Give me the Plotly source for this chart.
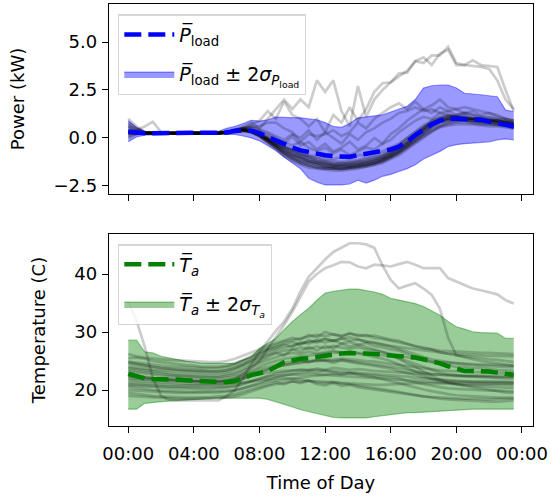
import plotly.graph_objects as go
from plotly.subplots import make_subplots

# half-hourly time of day (hours)
hours = [i * 0.5 for i in range(48)]

# ---- power (kW) ----
p_mean = [0.33, 0.28, 0.25, 0.25, 0.25, 0.25, 0.25, 0.25, 0.25, 0.25, 0.25, 0.25,
          0.28, 0.38, 0.40, 0.38, 0.25, 0.05, -0.15, -0.30, -0.50, -0.65, -0.75, -0.82,
          -0.90, -0.95, -0.98, -0.98, -0.90, -0.82, -0.75, -0.68, -0.60, -0.45, -0.20, 0.15,
          0.45, 0.70, 0.90, 1.00, 1.00, 1.00, 0.98, 0.95, 0.85, 0.78, 0.70, 0.60]
p_upper = [0.90, 0.55, 0.35, 0.33, 0.32, 0.32, 0.32, 0.32, 0.32, 0.32, 0.33, 0.35,
           0.50, 0.60, 0.75, 0.92, 0.88, 0.95, 1.08, 1.08, 1.05, 1.05, 1.00, 0.95,
           0.80, 0.60, 0.55, 0.75, 1.05, 1.10, 1.15, 1.20, 1.35, 1.50, 1.65, 2.00,
           2.60, 2.72, 2.76, 2.76, 2.60, 2.33, 2.30, 2.25, 2.20, 2.15, 1.45, 1.37]
p_lower = [-0.20, 0.05, 0.15, 0.17, 0.18, 0.18, 0.18, 0.18, 0.18, 0.18, 0.17, 0.16,
           0.15, 0.18, 0.10, 0.00, -0.15, -0.40, -0.65, -1.00, -1.30, -1.60, -2.10, -2.30,
           -2.45, -2.45, -2.45, -2.40, -2.20, -2.35, -2.20, -2.00, -1.90, -1.75, -1.60, -1.40,
           -1.10, -0.90, -0.70, -0.45, -0.35, -0.30, -0.28, -0.25, -0.20, -0.10, -0.05, -0.10]

p_days = [
    [0.5, 0.3, 0.25, 0.25, 0.25, 0.25, 0.25, 0.25, 0.25, 0.25, 0.25, 0.25,
     0.3, 0.4, 0.45, 0.4, 0.2, -0.1, -0.4, -0.7, -0.9, -1.1, -1.25, -1.35,
     -1.45, -1.55, -1.6, -1.6, -1.55, -1.5, -1.4, -1.3, -1.1, -0.9, -0.6, -0.3,
     0.0, 0.3, 0.6, 0.8, 0.9, 0.95, 0.9, 0.85, 0.8, 0.75, 0.7, 0.6],
    [1.0, 0.6, 0.3, 0.25, 0.25, 0.25, 0.25, 0.25, 0.25, 0.25, 0.25, 0.3,
     0.35, 0.45, 0.5, 0.4, 0.1, -0.2, -0.5, -0.8, -1.0, -1.2, -1.3, -1.4,
     -1.5, -1.5, -1.45, -1.5, -1.4, -1.3, -1.2, -1.1, -0.9, -0.6, -0.3, 0.1,
     0.4, 0.7, 0.9, 1.0, 1.1, 1.0, 1.0, 1.05, 0.95, 0.9, 0.8, 0.7],
    [0.2, 0.25, 0.25, 0.25, 0.25, 0.25, 0.25, 0.25, 0.25, 0.25, 0.25, 0.25,
     0.3, 0.35, 0.4, 0.35, 0.2, 0.0, -0.3, -0.5, -0.7, -0.9, -1.0, -1.1,
     -1.2, -1.3, -1.35, -1.3, -1.2, -1.1, -1.0, -0.9, -0.7, -0.4, -0.1, 0.2,
     0.5, 0.8, 1.0, 1.1, 1.2, 1.3, 1.2, 1.1, 1.05, 1.0, 0.9, 0.8],
    [0.3, 0.25, 0.25, 0.25, 0.25, 0.25, 0.25, 0.25, 0.25, 0.25, 0.25, 0.25,
     0.3, 0.4, 0.5, 0.6, 0.4, 0.2, 0.0, -0.3, 0.1, -0.4, -0.2, -0.6,
     -0.3, -0.7, -0.5, -0.2, -0.6, -0.4, 0.0, -0.3, 0.2, 0.5, 0.9, 1.2,
     1.5, 1.3, 1.6, 1.4, 1.5, 1.3, 1.4, 1.2, 1.3, 1.1, 1.0, 0.9],
    [0.0, 0.2, 0.25, 0.25, 0.25, 0.25, 0.25, 0.25, 0.25, 0.25, 0.25, 0.25,
     0.25, 0.3, 0.35, 0.3, 0.1, -0.2, -0.5, -0.9, -1.1, -1.3, -1.45, -1.55,
     -1.6, -1.6, -1.65, -1.55, -1.5, -1.4, -1.3, -1.2, -1.0, -0.8, -0.5, -0.2,
     0.1, 0.4, 0.6, 0.7, 0.8, 0.8, 0.75, 0.7, 0.7, 0.65, 0.6, 0.5],
    [0.6, 0.4, 0.3, 0.25, 0.25, 0.25, 0.25, 0.25, 0.25, 0.25, 0.25, 0.25,
     0.3, 0.4, 0.4, 0.3, 0.1, -0.1, -0.3, -0.5, -0.6, -0.8, -0.9, -0.95,
     -1.0, -1.1, -1.0, -1.1, -0.9, -0.9, -0.8, -0.7, -0.5, -0.3, 0.0, 0.3,
     0.6, 0.8, 0.9, 1.0, 1.0, 1.0, 0.95, 0.9, 0.9, 0.85, 0.8, 0.7],
    [0.3, 0.4, 0.6, 0.85, 0.3, 0.25, 0.25, 0.25, 0.25, 0.25, 0.25, 0.25,
     0.3, 0.35, 0.4, 0.3, 0.2, 0.0, -0.2, -0.4, -0.6, -0.8, -1.0, -1.2,
     -1.3, -1.4, -1.4, -1.35, -1.3, -1.2, -1.1, -1.0, -0.8, -0.5, -0.2, 0.2,
     0.5, 0.9, 1.1, 1.2, 1.1, 1.0, 1.0, 0.9, 0.9, 0.8, 0.7, 0.7],
    [0.25, 0.25, 0.25, 0.25, 0.25, 0.25, 0.25, 0.25, 0.25, 0.25, 0.25, 0.25,
     0.25, 0.3, 0.4, 0.35, 0.2, -0.05, -0.35, -0.6, -0.85, -1.0, -1.2, -1.3,
     -1.4, -1.45, -1.5, -1.45, -1.4, -1.35, -1.25, -1.1, -0.9, -0.7, -0.4, -0.1,
     0.2, 0.5, 0.7, 0.8, 0.85, 0.9, 0.8, 0.75, 0.7, 0.7, 0.65, 0.55],
    [0.1, 0.2, 0.25, 0.25, 0.25, 0.25, 0.25, 0.25, 0.25, 0.25, 0.25, 0.25,
     0.3, 0.35, 0.45, 0.4, 0.15, -0.15, -0.45, -0.75, -0.95, -1.15, -1.3, -1.4,
     -1.5, -1.55, -1.55, -1.5, -1.45, -1.4, -1.3, -1.15, -0.95, -0.7, -0.4, -0.05,
     0.3, 0.6, 0.85, 0.95, 1.0, 0.95, 0.9, 0.85, 0.85, 0.8, 0.75, 0.65],
    [0.8, 0.5, 0.3, 0.25, 0.25, 0.25, 0.25, 0.25, 0.25, 0.25, 0.25, 0.25,
     0.3, 0.4, 0.45, 0.35, 0.15, -0.1, -0.35, -0.6, -0.8, -1.0, -1.15, -1.25,
     -1.35, -1.4, -1.4, -1.4, -1.35, -1.25, -1.15, -1.0, -0.8, -0.55, -0.25, 0.1,
     0.45, 0.75, 0.95, 1.05, 1.05, 1.1, 1.0, 0.95, 0.9, 0.9, 0.85, 0.75],
    [0.3, 0.3, 0.25, 0.25, 0.25, 0.25, 0.25, 0.25, 0.25, 0.25, 0.25, 0.25,
     0.3, 0.4, 0.5, 0.5, 0.3, 0.1, -0.1, -0.2, -0.4, -0.2, -0.5, -0.7,
     -0.5, -0.8, -0.6, -0.9, -0.7, -0.5, -0.6, -0.3, -0.1, 0.3, 0.6, 0.9,
     1.1, 1.0, 1.3, 1.2, 1.1, 1.2, 1.0, 1.0, 0.9, 0.9, 0.8, 0.8],
    [0.25, 0.25, 0.25, 0.25, 0.25, 0.25, 0.25, 0.25, 0.25, 0.25, 0.25, 0.25,
     0.25, 0.3, 0.35, 0.3, 0.1, -0.25, -0.6, -0.95, -1.2, -1.4, -1.55, -1.6,
     -1.65, -1.7, -1.7, -1.65, -1.6, -1.5, -1.4, -1.25, -1.05, -0.8, -0.5, -0.2,
     0.1, 0.35, 0.55, 0.65, 0.7, 0.7, 0.7, 0.65, 0.6, 0.6, 0.55, 0.5],
    [0.6, 0.35, 0.25, 0.25, 0.25, 0.25, 0.25, 0.25, 0.25, 0.25, 0.25, 0.25,
     0.3, 0.35, 0.4, 0.4, 0.25, 0.0, -0.25, -0.45, -0.65, -0.85, -0.95, -1.05,
     -1.15, -1.2, -1.25, -1.2, -1.15, -1.05, -0.95, -0.85, -0.65, -0.35, 0.0, 0.35,
     0.65, 0.9, 1.05, 1.15, 1.1, 1.05, 1.0, 0.95, 0.95, 0.9, 0.85, 0.8],
    [0.3, 0.25, 0.25, 0.25, 0.25, 0.25, 0.25, 0.25, 0.25, 0.25, 0.25, 0.25,
     0.3, 0.4, 0.5, 0.55, 0.45, 0.3, 0.1, -0.1, 0.2, 0.0, 0.4, -0.1,
     0.3, 0.0, -0.3, 0.2, -0.1, 0.3, 0.5, 0.8, 1.0, 1.3, 1.4, 1.6,
     1.4, 1.5, 1.3, 1.4, 1.2, 1.3, 1.2, 1.1, 1.1, 1.0, 1.0, 0.9],
    [0.4, 0.3, 0.25, 0.25, 0.25, 0.25, 0.25, 0.25, 0.25, 0.25, 0.25, 0.25,
     0.3, 0.4, 0.4, 0.3, 0.1, -0.2, -0.5, -0.8, -1.05, -1.25, -1.4, -1.5,
     -1.55, -1.6, -1.6, -1.55, -1.5, -1.45, -1.35, -1.2, -1.0, -0.75, -0.45, -0.1,
     0.25, 0.55, 0.8, 0.9, 0.95, 0.9, 0.85, 0.8, 0.75, 0.7, 0.65, 0.6],
    [0.2, 0.25, 0.25, 0.25, 0.25, 0.25, 0.25, 0.25, 0.25, 0.25, 0.25, 0.25,
     0.3, 0.35, 0.4, 0.35, 0.15, -0.1, -0.4, -0.65, -0.9, -1.05, -1.2, -1.3,
     -1.35, -1.45, -1.45, -1.4, -1.35, -1.3, -1.2, -1.05, -0.85, -0.6, -0.3, 0.05,
     0.4, 0.7, 0.9, 1.0, 1.05, 1.0, 1.0, 0.95, 0.9, 0.85, 0.8, 0.7],
    [0.7, 0.45, 0.3, 0.25, 0.25, 0.25, 0.25, 0.25, 0.25, 0.25, 0.25, 0.25,
     0.3, 0.4, 0.45, 0.4, 0.2, -0.05, -0.3, -0.55, -0.75, -0.95, -1.1, -1.2,
     -1.25, -1.35, -1.3, -1.3, -1.25, -1.2, -1.1, -0.95, -0.75, -0.5, -0.2, 0.15,
     0.5, 0.8, 1.0, 1.1, 1.15, 1.1, 1.05, 1.0, 0.95, 0.9, 0.85, 0.75],
    [0.25, 0.25, 0.25, 0.25, 0.25, 0.25, 0.25, 0.25, 0.25, 0.25, 0.25, 0.25,
     0.25, 0.3, 0.4, 0.35, 0.2, -0.1, -0.45, -0.8, -1.1, -1.3, -1.45, -1.55,
     -1.6, -1.6, -1.6, -1.55, -1.5, -1.4, -1.3, -1.15, -0.95, -0.7, -0.35, 0.0,
     0.35, 0.65, 0.85, 0.95, 0.95, 0.9, 0.9, 0.85, 0.8, 0.75, 0.7, 0.6],
    [0.3, 0.25, 0.25, 0.25, 0.25, 0.25, 0.25, 0.25, 0.25, 0.25, 0.25, 0.25,
     0.3, 0.4, 0.6, 0.8, 0.5, 1.0, 1.5, 2.0, 1.5, 2.0, 1.6, 3.0,
     2.4, 3.0, 1.4, 0.6, 2.7, 1.1, 2.0, 2.5, 2.9, 3.2, 3.5, 4.0,
     3.9, 4.3, 4.3, 4.75, 3.9, 3.8, 4.05, 3.8, 3.75, 3.7, 2.5, 1.4],
    [0.4, 0.3, 0.25, 0.25, 0.25, 0.25, 0.25, 0.25, 0.25, 0.25, 0.25, 0.25,
     0.3, 0.35, 0.5, 0.7, 0.9, 1.4, 1.0, 1.9, 1.2, 1.0, 0.6, 1.0,
     0.3, 1.2, 0.8, 1.6, 0.9, 1.5, 2.4, 2.85, 2.9, 3.37, 3.4, 4.0,
     4.2, 3.8, 4.4, 4.6, 3.8, 3.8, 3.75, 3.7, 3.6, 3.0, 2.0, 1.5],
    [0.3, 0.25, 0.25, 0.25, 0.25, 0.25, 0.25, 0.25, 0.25, 0.25, 0.25, 0.25,
     0.3, 0.4, 0.5, 0.6, 0.6, 0.8, 0.8, 0.5, 0.3, -0.2, 0.2, 0.1,
     0.2, 0.4, 0.1, 0.3, 0.8, 0.5, 1.0, 1.3, 1.6, 1.8, 1.5, 1.9,
     1.5, 1.7, 2.0, 1.6, 1.5, 1.6, 1.5, 1.4, 1.3, 1.2, 1.0, 0.9],
]

# ---- ambient temperature (C) ----
t_mean = [22.8, 22.3, 22.0, 21.9, 21.9, 21.8, 21.8, 21.7, 21.6, 21.5, 21.4, 21.4,
          21.4, 21.5, 22.0, 22.6, 22.9, 23.3, 24.0, 24.8, 25.1, 25.4, 25.5, 25.7,
          26.0, 26.2, 26.3, 26.4, 26.4, 26.3, 26.2, 26.1, 26.0, 25.9, 25.8, 25.6,
          25.3, 25.0, 24.6, 24.1, 23.6, 23.3, 23.3, 23.3, 23.2, 23.0, 22.8, 22.6]
t_upper = [28.6, 28.6, 26.6, 26.4, 25.8, 25.5, 25.2, 25.0, 24.8, 24.6, 24.6, 24.6,
           24.6, 24.6, 25.2, 25.7, 27.2, 28.0, 28.9, 30.4, 31.8, 33.0, 34.1, 35.5,
           36.7, 37.0, 37.2, 37.4, 37.4, 37.2, 36.9, 36.5, 35.8, 35.5, 35.2, 34.9,
           34.4, 33.6, 32.9, 31.8, 30.9, 30.5, 30.05, 29.9, 29.8, 29.8, 28.9, 28.9]
t_lower = [16.7, 16.7, 17.7, 17.9, 18.0, 18.1, 18.2, 18.3, 18.3, 18.4, 18.5, 18.6,
           18.6, 18.6, 18.6, 18.6, 18.6, 18.4, 18.0, 17.6, 17.1, 16.6, 16.3, 16.0,
           15.6, 15.3, 15.2, 15.2, 15.2, 15.2, 15.4, 15.6, 15.8, 16.0, 16.1, 16.1,
           16.2, 16.2, 16.3, 16.4, 16.6, 16.7, 16.7, 16.7, 16.7, 16.7, 16.7, 16.7]

t_days = [
    [25.5, 25.6, 25.4, 25.0, 24.8, 24.6, 24.5, 24.3, 24.2, 24.0, 24.0, 24.0,
     24.2, 24.6, 25.2, 25.8, 26.5, 27.2, 27.8, 28.3, 28.6, 28.9, 29.2, 29.5,
     29.3, 29.6, 29.4, 29.7, 29.5, 29.3, 29.4, 29.0, 28.7, 28.5, 28.0, 27.5,
     27.2, 27.0, 26.5, 26.2, 26.0, 25.8, 25.6, 25.5, 25.3, 25.2, 25.0, 24.8],
    [24.8, 24.5, 24.3, 24.0, 23.8, 23.6, 23.5, 23.4, 23.3, 23.2, 23.2, 23.2,
     23.4, 23.8, 24.4, 25.2, 26.0, 26.8, 27.2, 27.8, 27.5, 28.2, 28.0, 28.5,
     28.2, 28.6, 28.0, 28.3, 27.8, 28.1, 27.6, 27.4, 27.0, 26.8, 26.2, 25.7,
     25.3, 24.8, 24.5, 24.2, 24.0, 24.0, 23.8, 23.8, 23.6, 23.5, 23.4, 23.3],
    [23.2, 23.0, 22.8, 22.6, 22.5, 22.4, 22.3, 22.2, 22.1, 22.0, 22.0, 22.0,
     22.1, 22.3, 22.8, 23.3, 24.0, 24.6, 25.0, 25.4, 25.6, 25.8, 26.0, 26.2,
     26.3, 26.5, 26.4, 26.6, 26.4, 26.3, 26.2, 26.0, 25.8, 25.5, 25.0, 24.5,
     24.0, 23.5, 23.0, 22.7, 22.5, 22.4, 22.3, 22.2, 22.2, 22.1, 22.0, 22.0],
    [22.0, 21.9, 21.8, 21.7, 21.6, 21.6, 21.5, 21.5, 21.4, 21.4, 21.3, 21.3,
     21.4, 21.6, 22.0, 22.4, 22.8, 23.0, 23.2, 23.3, 23.4, 23.5, 23.5, 23.5,
     23.4, 23.3, 23.2, 23.1, 23.0, 22.9, 22.8, 22.7, 22.6, 22.5, 22.3, 22.1,
     22.0, 21.8, 21.7, 21.6, 21.5, 21.5, 21.4, 21.4, 21.4, 21.3, 21.3, 21.3],
    [21.3, 21.2, 21.1, 21.0, 20.9, 20.9, 20.8, 20.8, 20.8, 20.8, 20.9, 20.9,
     21.0, 21.1, 21.3, 21.5, 21.7, 21.9, 22.0, 22.1, 22.0, 21.8, 21.6, 21.5,
     21.4, 21.3, 21.2, 21.1, 21.0, 21.0, 20.9, 20.9, 21.0, 21.1, 21.2, 21.2,
     21.2, 21.2, 21.1, 21.1, 21.0, 21.0, 21.0, 20.9, 20.9, 20.9, 20.9, 20.9],
    [20.5, 20.3, 20.1, 20.0, 19.9, 19.8, 19.8, 19.7, 19.7, 19.7, 19.8, 19.8,
     19.9, 20.0, 20.3, 20.6, 21.0, 21.4, 21.6, 21.8, 22.0, 22.2, 22.4, 22.5,
     22.6, 22.8, 22.7, 22.9, 22.8, 22.6, 22.5, 22.3, 22.2, 22.0, 21.6, 21.3,
     21.0, 20.7, 20.5, 20.3, 20.2, 20.1, 20.0, 20.0, 19.9, 19.9, 19.8, 19.8],
    [19.5, 19.3, 19.1, 19.0, 18.9, 18.8, 18.8, 18.7, 18.7, 18.7, 18.8, 18.9,
     19.0, 19.3, 19.7, 20.2, 20.6, 21.0, 21.3, 21.0, 21.5, 21.2, 21.6, 21.0,
     20.8, 21.2, 20.7, 20.9, 20.5, 20.3, 20.1, 19.9, 19.7, 19.5, 19.2, 19.0,
     18.8, 18.6, 18.5, 18.4, 18.3, 18.2, 18.1, 18.0, 18.0, 18.0, 18.1, 18.2],
    [26.2, 25.8, 25.6, 25.4, 25.3, 25.2, 25.1, 25.0, 24.9, 24.8, 24.8, 24.8,
     25.0, 25.4, 25.9, 26.5, 27.0, 27.6, 28.1, 28.6, 29.0, 28.7, 29.5, 29.1,
     30.0, 29.6, 29.2, 29.8, 29.3, 29.5, 29.0, 28.8, 28.5, 28.2, 27.8, 27.5,
     27.2, 27.0, 26.8, 26.7, 26.6, 26.5, 26.5, 26.4, 26.4, 26.3, 26.3, 26.2],
    [23.8, 23.6, 23.4, 23.2, 23.0, 22.9, 22.8, 22.7, 22.6, 22.6, 22.5, 22.5,
     22.7, 23.0, 23.6, 24.3, 25.0, 25.7, 26.4, 26.0, 27.0, 26.6, 27.4, 26.8,
     27.6, 27.2, 28.0, 27.5, 27.8, 27.4, 27.0, 26.6, 26.0, 25.4, 24.6, 24.0,
     23.2, 22.5, 21.8, 21.3, 21.0, 20.8, 20.5, 20.3, 20.0, 19.8, 19.6, 19.5],
    [21.7, 21.6, 21.5, 21.4, 21.3, 21.2, 21.2, 21.1, 21.0, 21.0, 21.0, 21.0,
     21.1, 21.4, 21.9, 22.4, 23.0, 23.5, 24.0, 24.3, 24.6, 24.8, 25.0, 25.2,
     25.3, 25.2, 25.4, 25.3, 25.1, 25.0, 24.9, 24.7, 24.5, 24.3, 24.1, 23.9,
     23.7, 23.5, 23.4, 23.3, 23.2, 23.2, 23.1, 23.1, 23.0, 23.0, 22.9, 22.9],
    [24.0, 23.9, 23.7, 23.5, 23.4, 23.3, 23.2, 23.1, 23.0, 23.0, 22.9, 22.9,
     23.1, 23.5, 24.1, 24.8, 25.4, 26.0, 26.4, 26.8, 27.0, 27.3, 27.1, 27.5,
     27.2, 27.6, 27.3, 27.1, 27.4, 27.0, 26.8, 26.5, 26.3, 26.0, 25.7, 25.4,
     25.1, 24.9, 24.8, 24.7, 24.6, 24.5, 24.5, 24.4, 24.4, 24.3, 24.3, 24.2],
    [22.6, 22.4, 22.2, 22.1, 22.0, 21.9, 21.8, 21.7, 21.6, 21.6, 21.5, 21.5,
     21.6, 21.9, 22.4, 23.0, 23.6, 24.0, 24.4, 24.7, 24.9, 25.1, 24.8, 25.2,
     25.0, 24.7, 25.1, 24.8, 24.6, 24.4, 24.2, 24.0, 23.7, 23.3, 22.9, 22.5,
     22.2, 21.9, 21.7, 21.6, 21.5, 21.5, 21.5, 21.4, 21.4, 21.4, 21.4, 21.4],
    [20.8, 20.7, 20.6, 20.5, 20.4, 20.4, 20.3, 20.3, 20.2, 20.2, 20.2, 20.3,
     20.4, 20.6, 21.0, 21.5, 22.0, 22.4, 22.8, 23.1, 23.3, 23.5, 23.4, 23.7,
     23.5, 23.8, 23.6, 23.5, 23.6, 23.4, 23.3, 23.2, 23.1, 23.0, 22.9, 22.8,
     22.7, 22.7, 22.6, 22.6, 22.5, 22.5, 22.5, 22.5, 22.4, 22.4, 22.4, 22.4],
    [24.9, 24.7, 24.5, 24.3, 24.2, 24.1, 24.0, 23.9, 23.9, 23.8, 23.8, 23.8,
     24.0, 24.4, 25.0, 25.6, 26.3, 27.0, 27.5, 27.9, 28.3, 27.8, 28.6, 28.2,
     28.8, 28.4, 28.9, 28.5, 28.7, 28.3, 28.1, 27.8, 27.6, 27.4, 27.2, 27.0,
     26.8, 26.6, 26.4, 26.3, 26.2, 26.1, 26.0, 26.0, 25.9, 25.9, 25.8, 25.8],
    [19.0, 18.9, 18.8, 18.7, 18.6, 18.6, 18.5, 18.5, 18.5, 18.5, 18.6, 18.6,
     18.7, 18.9, 19.3, 19.8, 20.3, 20.7, 21.0, 21.3, 21.5, 21.4, 21.6, 21.3,
     21.2, 21.4, 21.1, 21.0, 20.8, 20.6, 20.4, 20.2, 20.0, 19.7, 19.4, 19.1,
     18.9, 18.8, 18.7, 18.6, 18.5, 18.5, 18.5, 18.4, 18.4, 18.5, 18.5, 18.5],
    [23.5, 23.3, 23.1, 22.9, 22.8, 22.6, 22.5, 22.4, 22.3, 22.3, 22.2, 22.2,
     22.4, 22.7, 23.3, 24.0, 24.6, 25.2, 25.7, 26.1, 26.4, 26.2, 26.6, 26.3,
     26.5, 26.8, 26.4, 26.6, 26.3, 26.0, 25.8, 25.4, 25.0, 24.4, 23.8, 23.1,
     22.5, 22.0, 21.5, 21.2, 21.0, 20.8, 20.7, 20.6, 20.5, 20.5, 20.4, 20.4],
    [22.3, 22.1, 22.0, 21.9, 21.8, 21.7, 21.6, 21.6, 21.5, 21.5, 21.5, 21.5,
     21.6, 21.8, 22.2, 22.7, 23.2, 23.6, 24.0, 24.3, 24.5, 24.7, 24.9, 25.0,
     25.1, 25.0, 25.2, 25.0, 24.9, 24.7, 24.5, 24.3, 24.1, 23.8, 23.5, 23.2,
     23.0, 22.8, 22.6, 22.5, 22.4, 22.4, 22.3, 22.3, 22.3, 22.2, 22.2, 22.2],
    [21.0, 20.9, 20.8, 20.7, 20.7, 20.6, 20.6, 20.5, 20.5, 20.5, 20.5, 20.5,
     20.6, 20.8, 21.2, 21.6, 22.0, 22.3, 22.5, 22.6, 22.7, 22.6, 22.8, 22.7,
     22.6, 22.5, 22.4, 22.3, 22.2, 22.1, 22.0, 21.9, 21.8, 21.7, 21.6, 21.5,
     21.4, 21.4, 21.3, 21.3, 21.2, 21.2, 21.2, 21.1, 21.1, 21.1, 21.1, 21.1],
    [24.5, 24.3, 24.1, 23.9, 23.8, 23.7, 23.6, 23.5, 23.4, 23.4, 23.3, 23.3,
     23.5, 23.9, 24.5, 25.1, 25.8, 26.4, 26.9, 27.3, 27.7, 28.0, 28.3, 28.6,
     28.8, 28.5, 28.9, 29.1, 28.7, 28.4, 28.2, 27.9, 27.5, 27.1, 26.6, 26.1,
     25.7, 25.3, 25.0, 24.8, 24.6, 24.4, 24.3, 24.2, 24.1, 24.0, 24.0, 23.9],
    [20.0, 19.9, 19.8, 19.7, 19.6, 19.6, 19.5, 19.5, 19.5, 19.5, 19.5, 19.6,
     19.7, 19.9, 20.3, 20.8, 21.3, 21.8, 22.2, 22.5, 22.8, 23.0, 23.2, 23.1,
     23.3, 23.0, 22.8, 22.9, 22.6, 22.4, 22.2, 21.9, 21.6, 21.2, 20.8, 20.4,
     20.1, 19.8, 19.5, 19.3, 19.1, 19.0, 18.9, 18.8, 18.8, 18.7, 18.7, 18.7],
    [35.3, 32.0, 27.5, 22.0, 19.0, 18.3, 18.2, 18.2, 18.1, 18.1, 18.2, 18.2,
     19.0, 20.0, 22.0, 24.5, 26.6, 28.5, 30.2, 31.8, 34.0, 37.0, 39.5, 41.0,
     42.5, 43.8, 44.5, 45.3, 45.3, 45.1, 44.5, 41.5, 39.0, 37.5, 38.0, 38.4,
     37.5, 36.4, 34.0, 29.0, 26.0, 25.6, 25.3, 25.0, 24.8, 24.6, 24.4, 24.2],
    [22.5, 22.3, 22.2, 22.0, 21.9, 21.8, 21.7, 21.6, 21.6, 21.5, 21.5, 21.5,
     21.7, 22.0, 22.8, 23.8, 25.0, 27.0, 29.0, 31.2, 33.5, 36.0, 38.7, 40.0,
     41.0, 41.5, 42.1, 42.0, 41.3, 41.0, 41.6, 41.5, 41.3, 41.7, 42.1, 41.6,
     41.0, 41.0, 41.0, 39.3, 38.7, 38.1, 37.5, 37.2, 36.9, 36.5, 35.5, 34.9],
]

x_tickvals = [0, 4, 8, 12, 16, 20, 24]
x_ticktext = ["00:00", "04:00", "08:00", "12:00", "16:00", "20:00", "00:00"]
p_tickvals = [-2.5, 0.0, 2.5, 5.0]
p_ticktext = ["\u22122.5", "0.0", "2.5", "5.0"]
t_tickvals = [20, 30, 40]

FONT = "DejaVu Sans"
GRAY = "rgba(0,0,0,0.2)"

fig = make_subplots(rows=2, cols=1, shared_xaxes=True)


def add_panel(row, days, lower, upper, mean, color, fill, mean_name, band_name, legend):
    fig.add_trace(go.Scatter(x=hours, y=lower, mode="lines", line=dict(color=fill, width=1.2),
                             showlegend=False, hoverinfo="skip"), row=row, col=1)
    fig.add_trace(go.Scatter(x=hours, y=upper, mode="lines", fill="tonexty", fillcolor=fill,
                             line=dict(color=fill, width=1.2), name=band_name, legend=legend,
                             legendgroup=legend + "b", legendrank=2), row=row, col=1)
    for d in days:
        fig.add_trace(go.Scatter(x=hours, y=d, mode="lines", line=dict(color=GRAY, width=2.7),
                                 showlegend=False, hoverinfo="skip"), row=row, col=1)
    fig.add_trace(go.Scatter(x=hours, y=mean, mode="lines", name=mean_name, legend=legend,
                             legendgroup=legend + "a", legendrank=1,
                             line=dict(color=color, width=4.5, dash="17px,7px")), row=row, col=1)


add_panel(1, p_days, p_lower, p_upper, p_mean, "#0000ff", "rgba(0,0,255,0.4)",
          "<i>P\u0305</i><sub>load</sub>",
          "<i>P\u0305</i><sub>load</sub> \u00b1 2<i>\u03c3</i><sub><i>P</i><sub>load</sub></sub>",
          "legend")
add_panel(2, t_days, t_lower, t_upper, t_mean, "#008000", "rgba(0,128,0,0.4)",
          "<i>T\u0305<sub>a</sub></i>",
          "<i>T\u0305<sub>a</sub></i> \u00b1 2<i>\u03c3<sub>T<sub>a</sub></sub></i>",
          "legend2")

axis_common = dict(showline=True, linecolor="black", linewidth=1.4, mirror=True,
                   ticks="outside", ticklen=6, tickwidth=1.4, tickcolor="black",
                   showgrid=False, zeroline=False, automargin=False,
                   tickfont=dict(family=FONT, size=18, color="black"))

fig.update_xaxes(**axis_common, range=[-1.175, 24.675], tickvals=x_tickvals, ticktext=x_ticktext,
                 ticklabelstandoff=5)
fig.update_xaxes(showticklabels=False, row=1, col=1)
fig.update_xaxes(title=dict(text="Time of Day", font=dict(family=FONT, size=18, color="black"), standoff=13),
                 row=2, col=1)
fig.update_yaxes(**axis_common, ticklabelstandoff=1)
fig.update_yaxes(range=[-2.92, 6.98], tickvals=p_tickvals, ticktext=p_ticktext,
                 title=dict(text="Power (kW)", font=dict(family=FONT, size=18, color="black"), standoff=24),
                 row=1, col=1)
fig.update_yaxes(range=[13.8, 46.9], tickvals=t_tickvals,
                 title=dict(text="Temperature (C)", font=dict(family=FONT, size=18, color="black"), standoff=23),
                 row=2, col=1)

legend_common = dict(bgcolor="rgba(255,255,255,0.8)", bordercolor="rgba(204,204,204,0.8)", borderwidth=1.4,
                     font=dict(family=FONT, size=19, color="black"), xanchor="left", yanchor="top",
                     tracegroupgap=12, itemwidth=50)

fig.update_layout(
    width=551, height=498,
    margin=dict(l=109, r=18, t=4, b=72),
    paper_bgcolor="white", plot_bgcolor="white",
    xaxis=dict(domain=[0, 1]), xaxis2=dict(domain=[0, 1]),
    yaxis=dict(domain=[0.5498, 1.0]), yaxis2=dict(domain=[0.0, 0.455]),
    legend=dict(**legend_common, x=0.021, y=0.976),
    legend2=dict(**legend_common, x=0.021, y=0.431),
)

# the page body has a default 8px margin; drop it so the figure sits at the corner
fig.write_html("out.html", config={"displayModeBar": False},
               post_script="document.body.style.margin='0px';")
